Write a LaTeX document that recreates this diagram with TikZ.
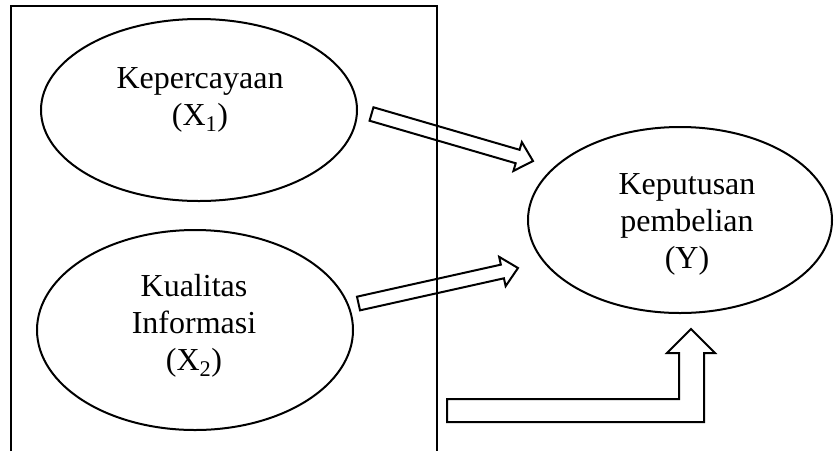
\documentclass[tikz,border=0pt]{standalone}
\usepackage{fontspec}
\setmainfont{Liberation Serif}
\usetikzlibrary{calc}
\usetikzlibrary{shapes.geometric}

% hollow straight arrow from #1 to #2
\newcommand{\fatarrow}[2]{%
  \coordinate (#1base) at ($(#2)!16pt!(#1)$);
  \draw[blockarr] ($(#1)!7pt!90:(#2)$) -- ($(#1base)!7pt!-90:(#1)$)
    -- ($(#1base)!15pt!-90:(#1)$) -- (#2)
    -- ($(#1base)!15pt!90:(#1)$) -- ($(#1base)!7pt!90:(#1)$)
    -- ($(#1)!7pt!-90:(#2)$) -- cycle;}

\begin{document}
\begin{tikzpicture}[x=1pt,y=-1pt,
    oval/.style={draw, ellipse, line width=2pt, inner sep=0pt},
    lbl/.style={font=\fontsize{32}{37}\selectfont, align=center, inner sep=0pt},
    blockarr/.style={draw, line width=2pt, line join=miter}]
            \useasboundingbox (0,0) rectangle (835,451);
            \draw[line width=2pt] (11,451) -- (11,6) -- (437,6) -- (437,451);

            \node[oval, minimum width=316pt, minimum height=182pt] (trust) at (199,110) {};
            \node[oval, minimum width=316pt, minimum height=200pt] (info) at (195,330) {};
            \node[oval, minimum width=304pt, minimum height=186pt] (buy) at (680,220) {};

            % base = last line
            \node[lbl, anchor=base] (trusttxt) at (200,125) {Kepercayaan\\(X\textsubscript{1})};
            \node[lbl, anchor=base] (infotxt) at (194,370) {Kualitas\\Informasi\\(X\textsubscript{2})};
            \node[lbl, anchor=base] (buytxt) at (687,268) {Keputusan\\pembelian\\(Y)};

            \coordinate (a1) at (371.5,114);
            \coordinate (b1) at (533,161);
            \coordinate (a2) at (358.5,303.5);
            \coordinate (b2) at (518,268);
            \fatarrow{a1}{b1}
            \fatarrow{a2}{b2}

            \draw[blockarr] (447,399) -- (679,399) -- (679,353) -- (667,353) -- (691,329)
                -- (715,353) -- (704,353) -- (704,422) -- (447,422) -- cycle;
        \end{tikzpicture}
\end{document}
